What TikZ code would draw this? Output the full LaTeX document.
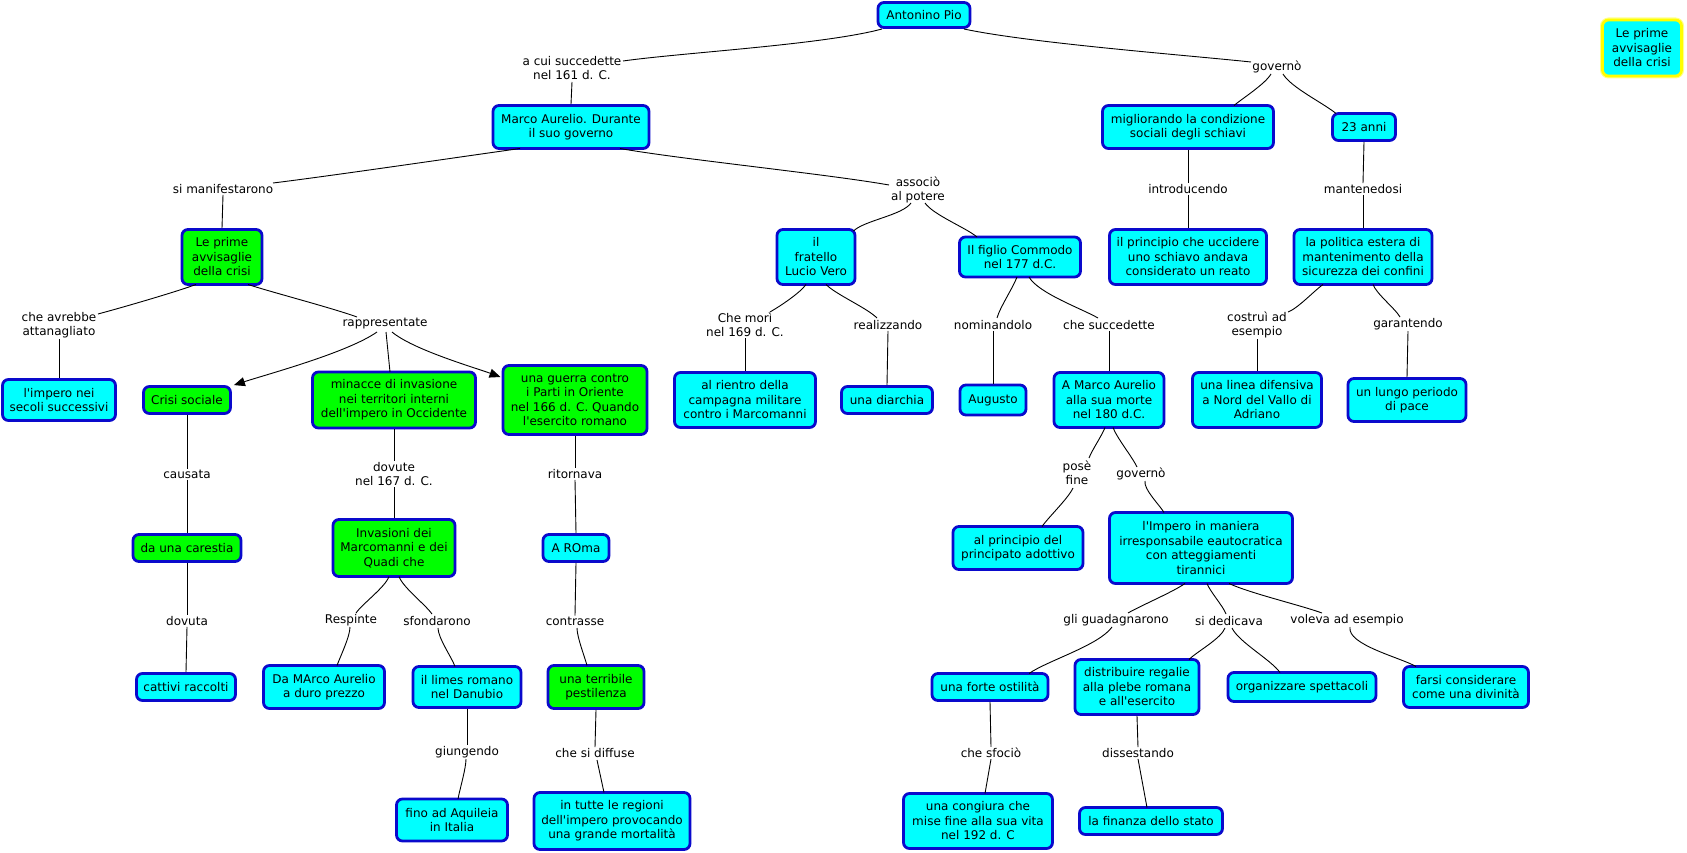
\documentclass[tikz,border=0pt]{standalone}
\usepackage{fontspec}
\newfontfamily\dvs{DejaVu Sans}
\usetikzlibrary{calc,arrows.meta}
\definecolor{cy}{HTML}{00FFFF}
\definecolor{gr}{HTML}{00FF00}
\definecolor{bd}{HTML}{0A0ACC}
\definecolor{yl}{HTML}{FFFF00}
\begin{document}
\begin{tikzpicture}[x=1pt,y=1pt,
 txt/.style={font=\dvs\fontsize{12}{14.5}\selectfont, align=center, text=black},
 box/.style={txt, draw=bd, line width=2.8pt, rounded corners=6pt, fill=cy, inner sep=2pt},
 gbox/.style={box, fill=gr},
 ybox/.style={box, draw=yl, preaction={draw=yl!45, line width=5pt}},
 sz/.style 2 args={minimum width=#1-3, minimum height=#2-3},
 lbl/.style={txt, inner sep=1pt},
 conn/.style={line width=0.9pt, black, looseness=0.6},
 arr/.style={conn, -{Triangle[length=11pt,width=9pt]}},
]
\path[fill=white, use as bounding box] (0,0) rectangle (1687,-853);

% ---- concept boxes ----
\node[box, sz={95}{28}] (ap) at (924,-15) {Antonino Pio};
\node[ybox, sz={82}{59}] (lp2) at (1642,-48) {Le prime\\avvisaglie\\della crisi};
\node[box, sz={159}{46}] (ma) at (571,-127) {Marco Aurelio. Durante\\il suo governo};
\node[box, sz={174}{46}] (mig) at (1188,-127) {migliorando la condizione\\sociali degli schiavi};
\node[box, sz={66}{30}] (anni) at (1364,-127) {23 anni};
\node[gbox, sz={83}{58}] (lep) at (222,-257) {Le prime\\avvisaglie\\della crisi};
\node[box, sz={81}{58}] (fra) at (816,-257) {il\\fratello\\Lucio Vero};
\node[box, sz={124}{43}] (fig) at (1020,-257) {Il figlio Commodo\\nel 177 d.C.};
\node[box, sz={160}{58}] (princ) at (1188,-257) {il principio che uccidere\\uno schiavo andava\\considerato un reato};
\node[box, sz={141}{58}] (pol) at (1363,-257) {la politica estera di\\mantenimento della\\sicurezza dei confini};
\node[box, sz={116}{44}] (imp1) at (59,-400) {l'impero nei\\secoli successivi};
\node[gbox, sz={90}{30}] (crisi) at (187,-400) {Crisi sociale};
\node[gbox, sz={166}{59}] (min) at (394,-400) {minacce di invasione\\nei territori interni\\dell'impero in Occidente};
\node[gbox, sz={147}{72}] (guer) at (575,-400) {una guerra contro\\i Parti in Oriente\\nel 166 d. C. Quando\\l'esercito romano};
\node[box, sz={144}{58}] (rie) at (745,-400) {al rientro della\\campagna militare\\contro i Marcomanni};
\node[box, sz={94}{30}] (diar) at (887,-400) {una diarchia};
\node[box, sz={69}{33}] (aug) at (993,-400) {Augusto};
\node[box, sz={113}{58}] (amar) at (1109,-400) {A Marco Aurelio\\alla sua morte\\nel 180 d.C.};
\node[box, sz={132}{58}] (linea) at (1257,-400) {una linea difensiva\\a Nord del Vallo di\\Adriano};
\node[box, sz={121}{46}] (lungo) at (1407,-400) {un lungo periodo\\di pace};
\node[gbox, sz={111}{30}] (car) at (187,-548) {da una carestia};
\node[gbox, sz={125}{60}] (inv) at (394,-548) {Invasioni dei\\Marcomanni e dei\\Quadi che};
\node[box, sz={69}{30}] (roma) at (576,-548) {A ROma};
\node[box, sz={133}{46}] (aprinc) at (1018,-548) {al principio del\\principato adottivo};
\node[box, sz={186}{74}] (impe) at (1201,-548) {l'Impero in maniera\\irresponsabile eautocratica\\con atteggiamenti\\tirannici};
\node[box, sz={102}{30}] (racc) at (186,-687) {cattivi raccolti};
\node[box, sz={124}{46}] (dam) at (324,-687) {Da MArco Aurelio\\a duro prezzo};
\node[box, sz={111}{44}] (lim) at (467,-687) {il limes romano\\nel Danubio};
\node[gbox, sz={99}{46}] (terr) at (596,-687) {una terribile\\pestilenza};
\node[box, sz={119}{30}] (forte) at (990,-687) {una forte ostilità};
\node[box, sz={127}{58}] (distr) at (1137,-687) {distribuire regalie\\alla plebe romana\\e all'esercito};
\node[box, sz={151}{32}] (org) at (1302,-687) {organizzare spettacoli};
\node[box, sz={128}{44}] (farsi) at (1466,-687) {farsi considerare\\come una divinità};
\node[box, sz={114}{45}] (aqu) at (452,-820) {fino ad Aquileia\\in Italia};
\node[box, sz={159}{60}] (tutte) at (612,-821) {in tutte le regioni\\dell'impero provocando\\una grande mortalità};
\node[box, sz={152}{58}] (cong) at (978,-821) {una congiura che\\mise fine alla sua vita\\nel 192 d. C};
\node[box, sz={146}{30}] (fin) at (1151,-821) {la finanza dello stato};

% ---- linking phrases ----
\node[lbl] (acui) at (572,-68) {a cui succedette\\nel 161 d. C.};
\node[lbl] (gov1) at (1277,-67) {governò};
\node[lbl] (intro) at (1188,-189) {introducendo};
\node[lbl] (mant) at (1363,-189) {mantenedosi};
\node[lbl] (assoc) at (918,-190) {associò\\al potere};
\node[lbl] (simanif) at (223,-189) {si manifestarono};
\node[lbl] (cheavr) at (59,-325) {che avrebbe\\attanagliato};
\node[lbl] (rappr) at (385,-324) {rappresentate};
\node[lbl] (chemori) at (745,-325) {Che morì\\nel 169 d. C.};
\node[lbl] (real) at (888,-325) {realizzando};
\node[lbl] (nomin) at (993,-325) {nominandolo};
\node[lbl] (chesucc) at (1109,-325) {che succedette};
\node[lbl] (costr) at (1257,-325) {costruì ad\\esempio};
\node[lbl] (garant) at (1408,-324) {garantendo};
\node[lbl] (causata) at (187,-474) {causata};
\node[lbl] (dovute) at (394,-474) {dovute\\nel 167 d. C.};
\node[lbl] (ritorn) at (575,-474) {ritornava};
\node[lbl] (pose) at (1077,-473) {posè\\fine};
\node[lbl] (gov2) at (1141,-474) {governò};
\node[lbl] (dovuta) at (187,-621) {dovuta};
\node[lbl] (resp) at (351,-620) {Respinte};
\node[lbl] (sfond) at (437,-621) {sfondarono};
\node[lbl] (contr) at (575,-621) {contrasse};
\node[lbl] (gli) at (1116,-620) {gli guadagnarono};
\node[lbl] (sided) at (1229,-621) {si dedicava};
\node[lbl] (voleva) at (1347,-620) {voleva ad esempio};
\node[lbl] (giung) at (467,-752) {giungendo};
\node[lbl] (diff) at (595,-753) {che si diffuse};
\node[lbl] (sfoc) at (991,-753) {che sfociò};
\node[lbl] (disse) at (1138,-753) {dissestando};

% ---- connectors ----
\draw[conn] ($(ap)+(-42,-14)$) to[out=195,in=8] ($(acui)+(51,7)$);
\draw[conn] ($(acui)+(0,-14)$) -- (ma.north);
\draw[conn] ($(ap)+(40,-14)$) to[out=-12,in=174] ($(gov1)+(-26,5)$);
\draw[conn] ($(gov1)+(-6,-7)$) to[out=240,in=40] ($(mig)+(46,21.5)$);
\draw[conn] ($(gov1)+(6,-7)$) to[out=-60,in=140] ($(anni)+(-28,13.5)$);
\draw[conn] (mig.south) -- (intro.north);
\draw[conn] (intro.south) -- (princ.north);
\draw[conn] (anni.south) -- (mant.north);
\draw[conn] (mant.south) -- (pol.north);
\draw[conn] ($(ma)+(49,-21.5)$) to[out=-10,in=170] ($(assoc)+(-29,5)$);
\draw[conn] ($(assoc)+(-7,-13)$) to[out=235,in=45] ($(fra.north east)+(-3,-3)$);
\draw[conn] ($(assoc)+(7,-13)$) to[out=-55,in=140] ($(fig)+(-43,20)$);
\draw[conn] ($(fra)+(-10,-27.5)$) to[out=235,in=30] ($(chemori)+(25,13)$);
\draw[conn] (chemori.south) -- (rie.north);
\draw[conn] ($(fra)+(10,-27.5)$) to[out=-45,in=135] ($(real)+(-11,7)$);
\draw[conn] (real.south) -- (diar.north);
\draw[conn] ($(fig)+(-3,-20)$) to[out=-110,in=75] ($(nomin)+(4,7)$);
\draw[conn] (nomin.south) -- (aug.north);
\draw[conn] ($(fig)+(9,-20)$) to[out=-60,in=150] ($(chesucc)+(-11,7)$);
\draw[conn] (chesucc.south) -- (amar.north);
\draw[conn] ($(amar)+(-4,-27.5)$) to[out=-110,in=70] ($(pose)+(12,15)$);
\draw[conn] ($(pose)+(-4,-15)$) to[out=-115,in=55] ($(aprinc)+(24,21.5)$);
\draw[conn] ($(amar)+(4,-27.5)$) to[out=-70,in=115] ($(gov2)+(-4,7)$);
\draw[conn] ($(gov2)+(4,-7)$) to[out=-100,in=120] ($(impe)+(-37,35.5)$);
\draw[conn] ($(impe)+(-16,-35.5)$) to[out=215,in=30] ($(gli)+(12,7)$);
\draw[conn] ($(gli)+(-4,-7)$) to[out=235,in=35] ($(forte)+(39,13.5)$);
\draw[conn] ($(impe)+(6,-35.5)$) to[out=-70,in=110] ($(sided)+(-3,7)$);
\draw[conn] ($(sided)+(-4,-7)$) to[out=-110,in=45] ($(distr)+(52,27.5)$);
\draw[conn] ($(sided)+(3,-7)$) to[out=-65,in=125] ($(org)+(-22,14.5)$);
\draw[conn] ($(impe)+(28,-35.5)$) to[out=-25,in=160] ($(voleva)+(-25,7)$);
\draw[conn] ($(voleva)+(3,-7)$) to[out=-100,in=150] ($(farsi)+(-50,20.5)$);
\draw[conn] (forte.south) -- (sfoc.north);
\draw[conn] (sfoc.south) -- ($(cong)+(7,27.5)$);
\draw[conn] (distr.south) -- (disse.north);
\draw[conn] (disse.south) -- ($(fin)+(-4,13.5)$);
\draw[conn] ($(ma)+(-51,-21.5)$) to[out=188,in=7] ($(simanif)+(50,6)$);
\draw[conn] (simanif.south) -- (lep.north);
\draw[conn] ($(lep)+(-26,-27.5)$) to[out=200,in=15] ($(cheavr)+(39,11)$);
\draw[conn] (cheavr.south) -- (imp1.north);
\draw[conn] ($(lep)+(26,-27.5)$) to[out=-18,in=160] ($(rappr)+(-28,7)$);
\draw[arr] ($(rappr)+(-8,-8)$) to[out=215,in=18] ($(crisi.north east)+(2,0)$);
\draw[conn] ($(rappr)+(1,-8)$) -- ($(min)+(-4,28)$);
\draw[arr] ($(rappr)+(7,-8)$) to[out=-40,in=160] ($(guer)+(-74.5,23)$);
\draw[conn] (crisi.south) -- (causata.north);
\draw[conn] (causata.south) -- (car.north);
\draw[conn] (car.south) -- (dovuta.north);
\draw[conn] (dovuta.south) -- (racc.north);
\draw[conn] (min.south) -- (dovute.north);
\draw[conn] (dovute.south) -- (inv.north);
\draw[conn] ($(inv)+(-5,-28.5)$) to[out=-110,in=55] ($(resp)+(5,7)$);
\draw[conn] ($(resp)+(-1,-7)$) to[out=-90,in=70] ($(dam)+(13,21.5)$);
\draw[conn] ($(inv)+(5,-28.5)$) to[out=-70,in=125] ($(sfond)+(-5,7)$);
\draw[conn] ($(sfond)+(1,-7)$) to[out=-90,in=110] ($(lim)+(-12,20.5)$);
\draw[conn] (guer.south) -- (ritorn.north);
\draw[conn] (ritorn.south) -- (roma.north);
\draw[conn] (roma.south) -- (contr.north);
\draw[conn] ($(contr)+(2,-7)$) to[out=-90,in=105] ($(terr)+(-9,21.5)$);
\draw[conn] (lim.south) -- (giung.north);
\draw[conn] ($(giung)+(-1,-7)$) to[out=-90,in=80] ($(aqu)+(6,21)$);
\draw[conn] (terr.south) -- (diff.north);
\draw[conn] ($(diff)+(2,-7)$) -- ($(tutte)+(-8,28.5)$);
\draw[conn] (costr.south) -- (linea.north);
\draw[conn] (garant.south) -- (lungo.north);
\draw[conn] ($(pol)+(-40,-27.5)$) to[out=215,in=20] ($(costr)+(31,13)$);
\draw[conn] ($(pol)+(10,-27.5)$) to[out=-70,in=120] ($(garant)+(-8,7)$);
\end{tikzpicture}
\end{document}
